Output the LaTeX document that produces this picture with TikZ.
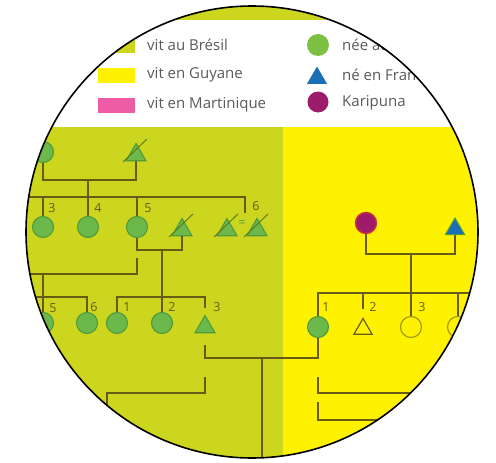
\documentclass[tikz,border=0pt]{standalone}
\usepackage{fontspec}
\setmainfont{Open Sans}
\usetikzlibrary{shapes.geometric,calc}
\definecolor{yg}{HTML}{CDD61E}
\definecolor{yel}{HTML}{FFF200}
\definecolor{lc}{HTML}{675C16}
\definecolor{gf}{HTML}{6DB84A}
\definecolor{gd}{HTML}{4F9A3A}
\definecolor{pk}{HTML}{EE5CA5}
\definecolor{mg}{HTML}{9E1A6A}
\definecolor{mgd}{HTML}{C8323C}
\definecolor{bl}{HTML}{1C6FB6}
\definecolor{lg}{HTML}{7CC142}
\definecolor{tx}{HTML}{5A5A5A}
\definecolor{oc}{HTML}{A89A10}
\definecolor{sl}{HTML}{5B7D1E}
\begin{document}
\begin{tikzpicture}[x=1pt,y=-1pt,
  ln/.style={draw=lc,line width=1.6pt},
  fem/.style={circle,minimum size=21pt,inner sep=0pt,fill=gf,draw=gd,line width=1.1pt},
  femo/.style={circle,minimum size=21pt,inner sep=0pt,draw=oc,line width=1.2pt},
  mal/.style={regular polygon,regular polygon sides=3,minimum size=23pt,inner sep=0pt,fill=gf,draw=gd,line width=1.1pt},
  malo/.style={regular polygon,regular polygon sides=3,minimum size=21pt,inner sep=0pt,draw=lc,line width=1.2pt},
  slash/.style={draw=sl,line width=1pt},
  num/.style={inner sep=0pt,text=lc,font=\fontsize{12.5}{12.5}\selectfont},
  lt/.style={anchor=west,inner sep=0pt,text=tx,font=\fontsize{15}{15}\selectfont},
  sw/.style={minimum width=37pt,minimum height=15pt,inner sep=0pt}]
\useasboundingbox (0,0) rectangle (496,463);
\fill[white] (0,0) rectangle (496,463);
\begin{scope}
\clip (252,232) circle (226pt);
\fill[yg] (0,0) rectangle (496,20);
\fill[white] (0,20) rectangle (496,127);
\fill[yg] (0,127) rectangle (283,463);
\fill[yel] (283,127) rectangle (496,463);
% legend
\node[sw,fill=yg] (sw1) at (116.5,45) {};
\node[sw,fill=yel] (sw2) at (116.5,75) {};
\node[sw,fill=pk] (sw3) at (116.5,105) {};
\node[lt] (t1) at (147,45) {vit au Brésil};
\node[lt] (t2) at (147,75) {vit en Guyane};
\node[lt] (t3) at (147,105) {vit en Martinique};
\node[circle,fill=lg,minimum size=22pt,inner sep=0pt] (ls1) at (318,45) {};
\node[regular polygon,regular polygon sides=3,minimum size=23pt,inner sep=0pt,fill=bl] (ls2) at (317,78) {};
\node[circle,fill=mg,minimum size=21pt,inner sep=0pt] (ls3) at (318,102) {};
\node[lt] (t4) at (342,45) {née au Brésil};
\node[lt] (t5) at (342,75) {né en France};
\node[lt] (t6) at (342,103) {Karipuna};
% generation 1
\node[fem] (a1) at (43,152) {};
\node[mal] (a2) at (136,155) {};
\draw[slash] ($(a2)+(-13,7)$) -- ($(a2)+(11,-16)$);
\coordinate (a12) at (88,180);
\draw[ln] (a1.south) -- (a1.south |- a12) -- (a2.south |- a12) -- (a2.south);
% sibship 1
\coordinate (s1a) at (20,197);
\coordinate (s1b) at (245,197);
\coordinate (b6t) at (245,213);
\draw[ln] (s1a) -- (s1b) -- (b6t);
\node[fem] (b3) at (43,227) {};
\node[fem] (b4) at (88,227) {};
\node[fem] (b5) at (137,227) {};
\node[mal] (b5p) at (182,230) {};
\draw[slash] ($(b5p)+(-13,7)$) -- ($(b5p)+(11,-16)$);
\node[mal] (b6a) at (227,230) {};
\node[mal] (b6b) at (257,230) {};
\draw[slash] ($(b6a)+(-13,7)$) -- ($(b6a)+(11,-16)$);
\draw[slash] ($(b6b)+(-13,7)$) -- ($(b6b)+(11,-16)$);
\node[inner sep=0pt,text=gd,font=\fontsize{12}{12}\selectfont] (eq) at (242,224) {=};
\draw[ln] (b3.north |- s1a) -- (b3.north);
\draw[ln] (a12) -- (b4.north);
\draw[ln] (b5.north |- s1a) -- (b5.north);
\node[num] (l3) at (52,208) {3};
\node[num] (l4) at (98,208) {4};
\node[num] (l5) at (148,208) {5};
\node[num] (l6) at (256,206) {6};
% couples of b5
\coordinate (m5) at (162,250);
\draw[ln] (b5.south) -- (b5.south |- m5) -- (b5p.south |- m5) -- (b5p.south);
\coordinate (u5) at (137,258);
\coordinate (u5b) at (137,274);
\coordinate (h5l) at (20,274);
\coordinate (h5) at (43,274);
\draw[ln] (u5) -- (u5b) -- (h5l);
% generation 3
\node[fem] (c5) at (43,323) {};
\node[fem] (c6) at (87,323) {};
\node[fem] (c1) at (117,323) {};
\node[fem] (c2) at (162,323) {};
\node[mal] (c3) at (205,327) {};
\draw[ln] (h5) -- (c5.north);
\coordinate (s2a) at (20,297);
\draw[ln] (s2a) -- (c6.north |- s2a) -- (c6.north);
\draw[ln] (c1.north) -- (c1.north |- s2a) -- (c3.north |- s2a) -- ($(c3.north)+(0,-6)$);
\draw[ln] (m5) -- (c2.north);
\node[num] (n5) at (53,308) {5};
\node[num] (n6) at (94,307) {6};
\node[num] (n1) at (127,307) {1};
\node[num] (n2) at (172,307) {2};
\node[num] (n3) at (217,307) {3};
% right family
\node[circle,minimum size=21pt,inner sep=0pt,fill=mg,draw=mgd,line width=1.4pt] (k) at (366,223) {};
\node[regular polygon,regular polygon sides=3,minimum size=22pt,inner sep=0pt,fill=bl,draw=gd,line width=1pt] (bt) at (455,229) {};
\coordinate (mk) at (411,254);
\draw[ln] (k.south) -- (k.south |- mk) -- (bt.south |- mk) -- (bt.south);
\node[fem] (r1) at (318,327) {};
\node[malo] (r2) at (363,329) {};
\node[femo] (r3) at (411,327) {};
\node[femo] (r4) at (458,327) {};
\draw[ln] (mk) -- (r3.north);
\coordinate (s3b) at (490,293);
\draw[ln] (r1.north) -- (r1.north |- s3b) -- (s3b);
\draw[ln] (r2.north |- s3b) -- ($(r2.north)+(0,-8)$);
\draw[ln] (r4.north |- s3b) -- (r4.north);
\node[num] (p1) at (326,307) {1};
\node[num] (p2) at (373,307) {2};
\node[num] (p3) at (422,307) {3};
% couple c3 - r1
\coordinate (d1) at (205,345);
\coordinate (m3) at (262,358);
\coordinate (bot1) at (262,470);
\draw[ln] (d1) -- (d1 |- m3) -- (r1.south |- m3) -- (r1.south);
\draw[ln] (m3) -- (bot1);
\coordinate (d2) at (205,377);
\coordinate (h3) at (107,393);
\coordinate (h3b) at (107,440);
\draw[ln] (d2) -- (d2 |- h3) -- (h3) -- (h3b);
\coordinate (e1) at (318,377);
\coordinate (e1r) at (490,393);
\draw[ln] (e1) -- (e1 |- e1r) -- (e1r);
\coordinate (e2) at (318,402);
\coordinate (e2r) at (490,420);
\draw[ln] (e2) -- (e2 |- e2r) -- (e2r);
\end{scope}
\draw[black,line width=1.6pt] (252,232) circle (226pt);
\end{tikzpicture}
\end{document}
